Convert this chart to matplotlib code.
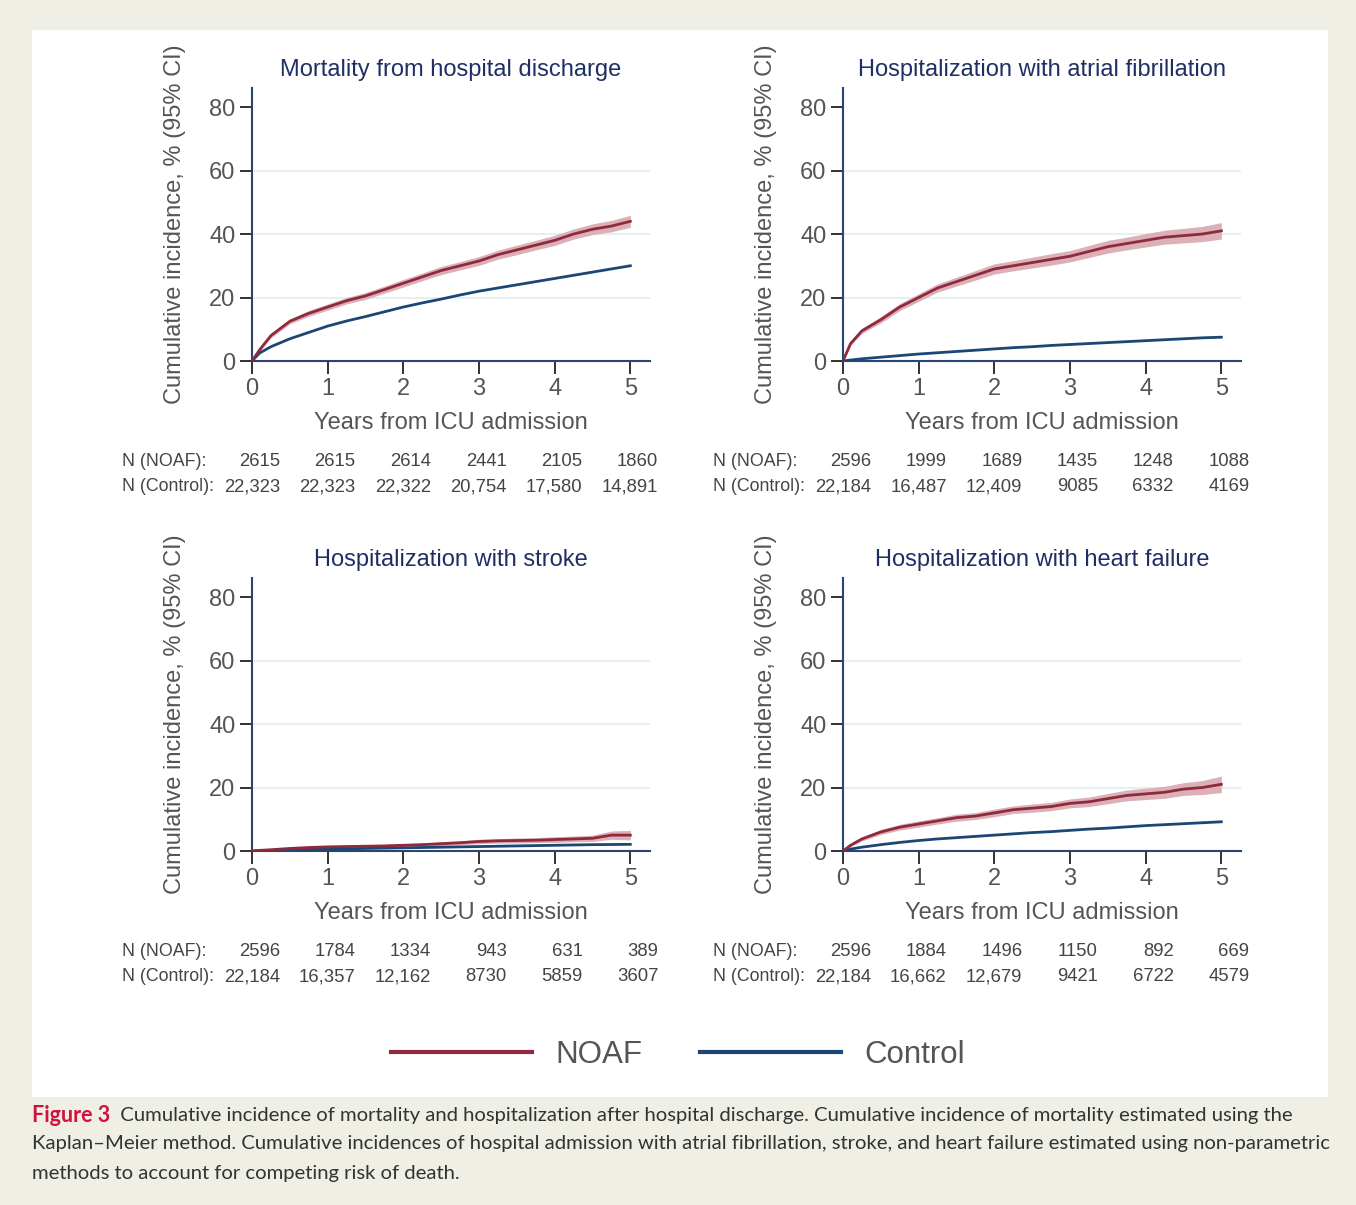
import matplotlib
matplotlib.use("Agg")
import matplotlib.pyplot as plt
from matplotlib.lines import Line2D
from matplotlib.patches import Rectangle

plt.rcParams["font.family"] = ["Liberation Sans", "DejaVu Sans"]

# common time grid (years)
years = [0, 0.1, 0.25, 0.5, 0.75, 1, 1.25, 1.5, 1.75, 2, 2.25, 2.5, 2.75,
         3, 3.25, 3.5, 3.75, 4, 4.25, 4.5, 4.75, 5]

titles = ["Mortality from hospital discharge",
          "Hospitalization with atrial fibrillation",
          "Hospitalization with stroke",
          "Hospitalization with heart failure"]

# cumulative incidence, %
noaf_mort = [0, 3.5, 8, 12.5, 15, 17, 19, 20.5, 22.5, 24.5, 26.5, 28.5, 30,
             31.5, 33.5, 35, 36.5, 38, 40, 41.5, 42.5, 44]
ctrl_mort = [0, 2.5, 4.5, 7, 9, 11, 12.6, 14, 15.5, 17, 18.3, 19.5, 20.8,
             22, 23, 24, 25, 26, 27, 28, 29, 30]
noaf_af = [0, 5.5, 9.5, 13, 17, 20, 23, 25, 27, 29, 30, 31, 32,
           33, 34.5, 36, 37, 38, 39, 39.5, 40, 41]
ctrl_af = [0, 0.3, 0.7, 1.2, 1.7, 2.2, 2.6, 3.0, 3.4, 3.8, 4.2, 4.5, 4.9,
           5.2, 5.5, 5.8, 6.1, 6.4, 6.7, 7.0, 7.3, 7.5]
noaf_stroke = [0, 0.2, 0.4, 0.8, 1.1, 1.3, 1.4, 1.5, 1.6, 1.8, 2.0, 2.3, 2.6,
               3.0, 3.2, 3.3, 3.4, 3.6, 3.8, 4.0, 5.0, 5.0]
ctrl_stroke = [0, 0.1, 0.2, 0.35, 0.5, 0.6, 0.7, 0.8, 0.9, 1.0, 1.1, 1.2, 1.3,
               1.4, 1.5, 1.6, 1.7, 1.8, 1.9, 2.0, 2.05, 2.1]
noaf_hf = [0, 1.8, 3.8, 6, 7.5, 8.5, 9.5, 10.5, 11, 12, 13, 13.5, 14,
           15, 15.5, 16.5, 17.5, 18, 18.5, 19.5, 20, 21]
ctrl_hf = [0, 0.6, 1.2, 2, 2.7, 3.3, 3.8, 4.2, 4.6, 5, 5.4, 5.8, 6.1,
           6.5, 6.9, 7.2, 7.6, 8, 8.3, 8.6, 8.9, 9.2]

# 95% CI half-width for NOAF
ci_mort = [0, 0.5, 0.7, 0.8, 0.9, 1.0, 1.0, 1.1, 1.1, 1.2, 1.2, 1.3, 1.3,
           1.4, 1.4, 1.5, 1.5, 1.6, 1.6, 1.7, 1.8, 1.9]
ci_af = [0, 0.6, 0.8, 1.0, 1.1, 1.2, 1.3, 1.4, 1.5, 1.6, 1.6, 1.7, 1.8,
         1.8, 1.9, 2.0, 2.0, 2.1, 2.2, 2.3, 2.4, 2.6]
ci_stroke = [0, 0.1, 0.2, 0.3, 0.3, 0.4, 0.4, 0.4, 0.5, 0.5, 0.5, 0.6, 0.6,
             0.7, 0.7, 0.8, 0.8, 0.9, 0.9, 1.0, 1.3, 1.5]
ci_hf = [0, 0.4, 0.6, 0.8, 0.9, 1.0, 1.0, 1.1, 1.1, 1.2, 1.2, 1.3, 1.3,
         1.4, 1.5, 1.6, 1.7, 1.8, 1.9, 2.0, 2.2, 2.6]

noaf_curves = [noaf_mort, noaf_af, noaf_stroke, noaf_hf]
ctrl_curves = [ctrl_mort, ctrl_af, ctrl_stroke, ctrl_hf]
ci_curves = [ci_mort, ci_af, ci_stroke, ci_hf]

# numbers at risk
risk_years = [0, 1, 2, 3, 4, 5]
n_noaf = [["2615", "2615", "2614", "2441", "2105", "1860"],
          ["2596", "1999", "1689", "1435", "1248", "1088"],
          ["2596", "1784", "1334", "943", "631", "389"],
          ["2596", "1884", "1496", "1150", "892", "669"]]
n_ctrl = [["22,323", "22,323", "22,322", "20,754", "17,580", "14,891"],
          ["22,184", "16,487", "12,409", "9085", "6332", "4169"],
          ["22,184", "16,357", "12,162", "8730", "5859", "3607"],
          ["22,184", "16,662", "12,679", "9421", "6722", "4579"]]

NOAF_COL = "#8e2a3b"
CTRL_COL = "#1c4674"
CI_COL = "#dbb0b6"
SPINE_COL = "#2b4478"
TITLE_COL = "#1f2f63"
GREY = "#555555"
BG = "#efefe5"

fig = plt.figure(figsize=(13.56, 12.05), dpi=100, facecolor=BG)
fig.patches.append(Rectangle((32 / 1356, 1 - 1097 / 1205), 1296 / 1356, 1067 / 1205,
                             transform=fig.transFigure, facecolor="white",
                             edgecolor="none", zorder=-5))

lefts = [252 / 1356, 843 / 1356]
bottoms = [(1205 - 361) / 1205, (1205 - 851) / 1205]
w = 398 / 1356
h = 273 / 1205
row_y = [-0.3846, -0.4762]

for i in range(4):
    ax = fig.add_axes([lefts[i % 2], bottoms[i // 2], w, h])
    ax.set_facecolor("none")
    lo = [v - c for v, c in zip(noaf_curves[i], ci_curves[i])]
    hi = [v + c for v, c in zip(noaf_curves[i], ci_curves[i])]
    ax.fill_between(years, lo, hi, color=CI_COL, lw=0, zorder=2)
    ax.plot(years, ctrl_curves[i], color=CTRL_COL, lw=2, zorder=3)
    ax.plot(years, noaf_curves[i], color=NOAF_COL, lw=2, zorder=4)

    ax.set_xlim(0, 5.26)
    ax.set_ylim(0, 86)
    ax.set_xticks(risk_years)
    ax.set_yticks([0, 20, 40, 60, 80])
    for g in [20, 40, 60]:
        ax.axhline(g, color="#e6f0f3", lw=1.5, zorder=1)
    for s in ["top", "right"]:
        ax.spines[s].set_visible(False)
    for s in ["left", "bottom"]:
        ax.spines[s].set_color(SPINE_COL)
        ax.spines[s].set_linewidth(1.5)
    ax.tick_params(length=9, width=1.3, color="#222222", labelsize=17,
                   labelcolor=GREY, pad=3)

    ax.text(0.5, 1.065, titles[i], transform=ax.transAxes, ha="center",
            va="center", fontsize=17, color=TITLE_COL)
    ax.set_xlabel("Years from ICU admission", fontsize=17, color=GREY)
    ax.xaxis.set_label_coords(0.5, -0.187)
    ax.set_ylabel("Cumulative incidence, % (95% CI)", fontsize=17, color=GREY)
    ax.yaxis.set_label_coords(-0.166, 0.502)

    tr = ax.get_xaxis_transform()
    ax.text(-1.72, row_y[0], "N (NOAF):", transform=tr, ha="left",
            va="baseline", fontsize=12.8, color="#444444")
    ax.text(-1.72, row_y[1], "N (Control):", transform=tr, ha="left",
            va="baseline", fontsize=12.8, color="#444444")
    for x, a, b in zip(risk_years, n_noaf[i], n_ctrl[i]):
        ax.text(x + 0.37, row_y[0], a, transform=tr, ha="right", va="baseline",
                fontsize=13.3, color="#444444")
        ax.text(x + 0.37, row_y[1], b, transform=tr, ha="right", va="baseline",
                fontsize=13.3, color="#444444")

handles = [Line2D([], [], color=NOAF_COL, lw=3),
           Line2D([], [], color=CTRL_COL, lw=3)]
fig.legend(handles, ["NOAF", "Control"], loc="center",
           bbox_to_anchor=(0.5, 1 - 1055 / 1205), ncol=2, frameon=False,
           fontsize=22.5, handlelength=4.5, handletextpad=0.75, columnspacing=1.85,
           labelcolor=GREY)

cap_font = ["Lato", "DejaVu Sans"]
cap_size = 14.6
t1 = fig.text(32 / 1356, 1 - 1115 / 1205, "Figure 3", fontsize=cap_size + 0.9,
              fontweight="bold", color="#d2123e", family=cap_font, va="center",
              ha="left")
fig.add_artist(plt.Annotation(
    "  Cumulative incidence of mortality and hospitalization after hospital discharge. "
    "Cumulative incidence of mortality estimated using the",
    xy=(1, 0.5), xycoords=t1, va="center", ha="left", fontsize=cap_size,
    color="#333333", family=cap_font))
fig.text(32 / 1356, 1 - 1144 / 1205,
         "Kaplan\u2013Meier method. Cumulative incidences of hospital admission with atrial "
         "fibrillation, stroke, and heart failure estimated using non-parametric",
         fontsize=cap_size, color="#333333", family=cap_font, va="center", ha="left")
fig.text(32 / 1356, 1 - 1173 / 1205,
         "methods to account for competing risk of death.",
         fontsize=cap_size, color="#333333", family=cap_font, va="center", ha="left")

fig.savefig("out.png", dpi=100, facecolor=BG)
